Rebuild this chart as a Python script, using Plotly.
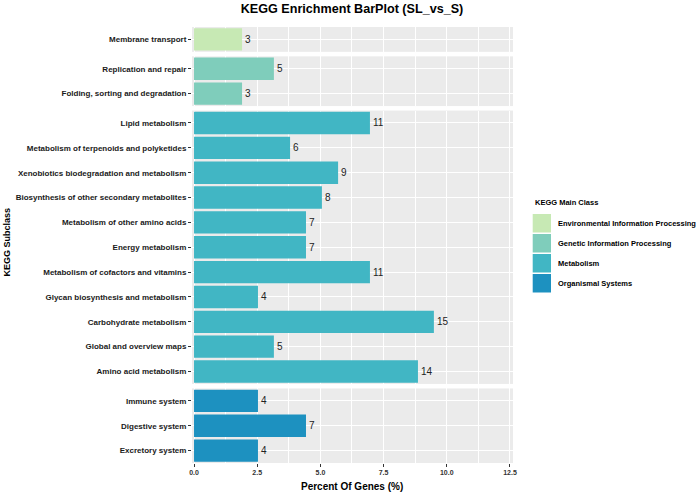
import plotly.graph_objects as go
from plotly.subplots import make_subplots

# ---------------- data ----------------
main_classes = ["Environmental Information Processing", "Genetic Information Processing",
                "Metabolism", "Organismal Systems"]
class_colors = ["#C7E9B4", "#7FCDBB", "#41B6C4", "#1D91C0"]

env_subclasses = ["Membrane transport"]
env_percent = [1.90]
env_counts = [3]

gen_subclasses = ["Replication and repair", "Folding, sorting and degradation"]
gen_percent = [3.16, 1.90]
gen_counts = [5, 3]

met_subclasses = ["Lipid metabolism", "Metabolism of terpenoids and polyketides",
                  "Xenobiotics biodegradation and metabolism",
                  "Biosynthesis of other secondary metabolites",
                  "Metabolism of other amino acids", "Energy metabolism",
                  "Metabolism of cofactors and vitamins", "Glycan biosynthesis and metabolism",
                  "Carbohydrate metabolism", "Global and overview maps", "Amino acid metabolism"]
met_percent = [6.96, 3.80, 5.70, 5.06, 4.43, 4.43, 6.96, 2.53, 9.49, 3.16, 8.86]
met_counts = [11, 6, 9, 8, 7, 7, 11, 4, 15, 5, 14]

org_subclasses = ["Immune system", "Digestive system", "Excretory system"]
org_percent = [2.53, 4.43, 2.53]
org_counts = [4, 7, 4]

x_tickvals = [0, 2.5, 5, 7.5, 10, 12.5]
x_ticktext = ["0.0", "2.5", "5.0", "7.5", "10.0", "12.5"]
x_minor = [1.25, 3.75, 6.25, 8.75, 11.25]

groups = [
    (env_subclasses, env_percent, env_counts),
    (gen_subclasses, gen_percent, gen_counts),
    (met_subclasses, met_percent, met_counts),
    (org_subclasses, org_percent, org_counts),
]

# ---------------- layout geometry ----------------
W, H = 696, 492
L, R, T, B = 192, 183, 27, 29
PW, PH = W - L - R, H - T - B
GAP = 4.5
FONT = "Liberation Sans, Arial, sans-serif"


def px_x(px):
    return (px - L) / PW


def px_y(py):
    return 1 - (py - T) / PH


fig = make_subplots(rows=4, cols=1, shared_xaxes=True,
                    vertical_spacing=GAP / PH,
                    row_heights=[len(g[0]) for g in groups])

for i, ((subs, pct, cnt), color) in enumerate(zip(groups, class_colors), start=1):
    fig.add_trace(go.Bar(
        y=subs, x=pct, orientation="h", width=0.9,
        marker=dict(color=color, line=dict(width=0)),
        text=[str(c) for c in cnt], textposition="outside",
        textfont=dict(family=FONT, size=10, color="#222222"),
        cliponaxis=False, showlegend=False,
        name=main_classes[i - 1],
    ), row=i, col=1)
    n = len(subs)
    fig.update_yaxes(type="category", categoryorder="array", categoryarray=subs,
                     range=[n - 0.5, -0.5], ticks="outside", ticklen=3,
                     tickcolor="#333333", tickwidth=1,
                     showgrid=True, gridcolor="white", gridwidth=1.1,
                     zeroline=False, showline=False,
                     tickfont=dict(family=FONT, size=8, color="#1a1a1a", weight="bold"),
                     row=i, col=1)
    fig.update_xaxes(range=[-0.08, 12.62], tickvals=x_tickvals, ticktext=x_ticktext,
                     showgrid=True, gridcolor="white", gridwidth=1.1,
                     minor=dict(showgrid=True, gridcolor="white", gridwidth=0.6,
                                tickvals=x_minor),
                     zeroline=False, showline=False,
                     ticks="outside" if i == 4 else "", ticklen=3,
                     tickcolor="#333333", tickwidth=1,
                     tickfont=dict(family=FONT, size=7, color="#333333", weight="bold"),
                     row=i, col=1)

annotations = [
    dict(text="Percent Of Genes (%)", x=px_x(352), y=px_y(486), xref="paper", yref="paper",
         xanchor="center", yanchor="middle", showarrow=False,
         font=dict(family=FONT, size=10, color="black", weight="bold")),
    dict(text="KEGG Subclass", x=px_x(6.5), y=px_y(242), xref="paper", yref="paper",
         xanchor="center", yanchor="middle", showarrow=False, textangle=-90,
         font=dict(family=FONT, size=9, color="black", weight="bold")),
    dict(text="KEGG Main Class", x=px_x(532.5), y=px_y(202), xref="paper", yref="paper",
         xanchor="left", yanchor="middle", showarrow=False,
         font=dict(family=FONT, size=7.5, color="black", weight="bold")),
]
shapes = []
for k, (cls, col) in enumerate(zip(main_classes, class_colors)):
    top = 214 + k * 20
    shapes.append(dict(type="rect", xref="paper", yref="paper",
                       x0=px_x(532.7), x1=px_x(551), y0=px_y(top), y1=px_y(top + 18.5),
                       fillcolor=col, line=dict(width=0), layer="above"))
    annotations.append(dict(text=cls, x=px_x(555.5), y=px_y(top + 9.3), xref="paper",
                            yref="paper", xanchor="left", yanchor="middle", showarrow=False,
                            font=dict(family=FONT, size=7.5, color="black", weight="bold")))

fig.update_layout(
    width=W, height=H,
    margin=dict(l=L, r=R, t=T, b=B),
    paper_bgcolor="white", plot_bgcolor="#EBEBEB",
    bargap=0.1,
    title=dict(text="KEGG Enrichment BarPlot (SL_vs_S)", x=352 / W, xanchor="center",
               y=1 - 8.5 / H, yanchor="middle",
               font=dict(family=FONT, size=12.6, color="black", weight="bold")),
    annotations=annotations, shapes=shapes,
    showlegend=False,
)

fig.write_html("out.html", config={"displayModeBar": False},
               post_script="document.body.style.margin='0';document.body.style.padding='0';")
